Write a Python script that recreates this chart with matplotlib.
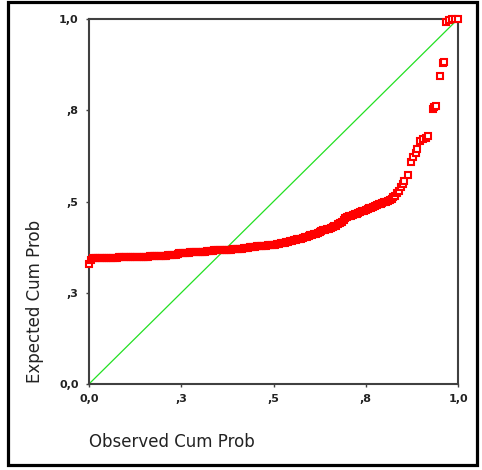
import matplotlib
matplotlib.use("Agg")
import matplotlib.pyplot as plt
from matplotlib.patches import Rectangle

# observed cumulative probability (dense part of the curve)
observed = [
    0.000, 0.005, 0.010, 0.015, 0.020, 0.025, 0.030, 0.035, 0.040, 0.045,
    0.050, 0.055, 0.060, 0.065, 0.070, 0.075, 0.080, 0.085, 0.090, 0.095,
    0.100, 0.105, 0.110, 0.115, 0.120, 0.125, 0.130, 0.135, 0.140, 0.145,
    0.150, 0.155, 0.160, 0.165, 0.170, 0.175, 0.180, 0.185, 0.190, 0.195,
    0.200, 0.205, 0.210, 0.215, 0.220, 0.225, 0.230, 0.235, 0.240, 0.245,
    0.250, 0.255, 0.260, 0.265, 0.270, 0.275, 0.280, 0.285, 0.290, 0.295,
    0.300, 0.305, 0.310, 0.315, 0.320, 0.325, 0.330, 0.335, 0.340, 0.345,
    0.350, 0.355, 0.360, 0.365, 0.370, 0.375, 0.380, 0.385, 0.390, 0.395,
    0.400, 0.405, 0.410, 0.415, 0.420, 0.425, 0.430, 0.435, 0.440, 0.445,
    0.450, 0.455, 0.460, 0.465, 0.470, 0.475, 0.480, 0.485, 0.490, 0.495,
    0.500, 0.505, 0.510, 0.515, 0.520, 0.525, 0.530, 0.535, 0.540, 0.545,
    0.550, 0.555, 0.560, 0.565, 0.570, 0.575, 0.580, 0.585, 0.590, 0.595,
    0.600, 0.605, 0.610, 0.615, 0.620, 0.625, 0.630, 0.635, 0.640, 0.645,
    0.650, 0.655, 0.660, 0.665, 0.670, 0.675, 0.680, 0.685, 0.690, 0.695,
    0.700, 0.705, 0.710, 0.715, 0.720, 0.725, 0.730, 0.735, 0.740, 0.745,
    0.750, 0.755, 0.760, 0.765, 0.770, 0.775, 0.780, 0.785, 0.790, 0.795,
    0.800, 0.805, 0.810, 0.815, 0.820, 0.825, 0.830, 0.835, 0.840, 0.845,
    0.850, 0.855,
    # sparse upper tail
    0.864, 0.873, 0.879, 0.885, 0.890, 0.897, 0.906, 0.913, 0.919,
    0.931, 0.936, 0.940, 0.951, 0.958, 0.962,
    0.967, 0.975, 0.985, 0.992, 1.000,
]

# expected cumulative probability
expected = [
    0.330, 0.340, 0.344, 0.345, 0.345, 0.345, 0.345, 0.345, 0.346, 0.346,
    0.346, 0.346, 0.346, 0.346, 0.346, 0.346, 0.347, 0.347, 0.347, 0.347,
    0.347, 0.347, 0.347, 0.347, 0.347, 0.348, 0.348, 0.348, 0.348, 0.348,
    0.348, 0.348, 0.348, 0.350, 0.350, 0.350, 0.350, 0.350, 0.351, 0.351,
    0.351, 0.352, 0.352, 0.353, 0.353, 0.353, 0.354, 0.354, 0.356, 0.358,
    0.358, 0.359, 0.360, 0.360, 0.360, 0.361, 0.361, 0.361, 0.362, 0.362,
    0.362, 0.362, 0.363, 0.363, 0.364, 0.364, 0.365, 0.365, 0.366, 0.366,
    0.366, 0.366, 0.367, 0.367, 0.367, 0.368, 0.368, 0.368, 0.369, 0.369,
    0.370, 0.370, 0.371, 0.371, 0.372, 0.372, 0.373, 0.374, 0.375, 0.376,
    0.376, 0.377, 0.377, 0.378, 0.378, 0.379, 0.379, 0.380, 0.380, 0.381,
    0.381, 0.382, 0.383, 0.384, 0.385, 0.386, 0.387, 0.388, 0.389, 0.392,
    0.393, 0.394, 0.395, 0.396, 0.397, 0.398, 0.400, 0.402, 0.404, 0.406,
    0.408, 0.409, 0.410, 0.412, 0.415, 0.417, 0.419, 0.421, 0.423, 0.425,
    0.426, 0.428, 0.430, 0.432, 0.434, 0.437, 0.440, 0.444, 0.449, 0.455,
    0.457, 0.459, 0.461, 0.463, 0.465, 0.467, 0.469, 0.471, 0.473, 0.475,
    0.477, 0.479, 0.481, 0.483, 0.485, 0.487, 0.490, 0.492, 0.494, 0.496,
    0.498, 0.500, 0.502, 0.505, 0.508, 0.512, 0.516, 0.522, 0.530, 0.540,
    0.548, 0.556,
    0.573, 0.609, 0.621, 0.632, 0.643, 0.667, 0.671, 0.675, 0.679,
    0.753, 0.758, 0.763, 0.844, 0.879, 0.881,
    0.991, 0.996, 1.000, 1.000, 1.000,
]

tick_vals = [0.0, 0.25, 0.5, 0.75, 1.0]
tick_labels = ["0,0", ",3", ",5", ",8", "1,0"]

W, H = 482, 470
fig = plt.figure(figsize=(W / 100, H / 100), dpi=100)
fig.patch.set_facecolor("white")

ax = fig.add_axes([89 / W, (H - 384) / H, (458 - 89) / W, (384 - 19) / H])
ax.set_xlim(0, 1)
ax.set_ylim(0, 1)

# diagonal reference line
ax.plot([0, 1], [0, 1], color="#22e022", lw=0.9, zorder=2)

ax.plot(observed, expected, linestyle="none", marker="s", ms=4.3,
        mfc="white", mec="#ff0000", mew=1.5, clip_on=False, zorder=3)

for s in ax.spines.values():
    s.set_color("#404040")
    s.set_linewidth(1.5)

ax.set_xticks(tick_vals)
ax.set_xticklabels(tick_labels)
ax.set_yticks(tick_vals)
ax.set_yticklabels(tick_labels)
ax.tick_params(direction="out", length=2.5, width=1, color="#404040",
               labelsize=8, pad=5)
for lab in ax.get_xticklabels() + ax.get_yticklabels():
    lab.set_fontweight("bold")
    lab.set_color("#222222")

fig.text(89 / W, (H - 442) / H, "Observed Cum Prob", fontsize=12,
         ha="left", va="center", color="#222222")
fig.text(35 / W, (H - 383) / H, "Expected Cum Prob", fontsize=12,
         rotation=90, ha="center", va="bottom", color="#222222")

# outer frame
fig.patches.append(Rectangle((7.5 / W, (H - 465) / H), (476.5 - 7.5) / W,
                             (465 - 1.5) / H, transform=fig.transFigure,
                             fill=False, edgecolor="black", lw=2.3))

fig.savefig("out.png", dpi=100)
